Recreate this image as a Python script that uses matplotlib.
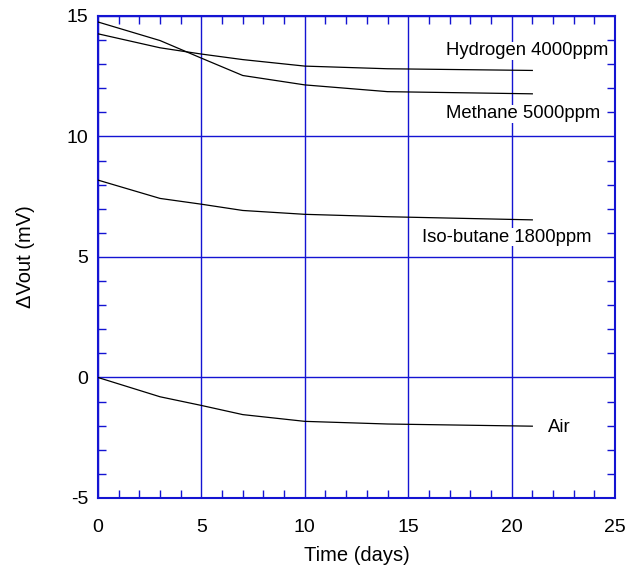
import matplotlib
matplotlib.use("Agg")
import matplotlib.pyplot as plt
from matplotlib.ticker import MultipleLocator

plt.rcParams['font.family'] = ['Liberation Sans', 'DejaVu Sans']
plt.rcParams['axes.unicode_minus'] = False

# Sensor output drift over storage time
days = [0, 3, 5, 7, 10, 14, 21]
hydrogen = [14.26, 13.68, 13.42, 13.19, 12.92, 12.81, 12.74]
methane = [14.75, 13.98, 13.25, 12.53, 12.14, 11.86, 11.77]
isobutane = [8.19, 7.43, 7.19, 6.93, 6.77, 6.67, 6.54]
air = [0.0, -0.80, -1.16, -1.54, -1.82, -1.93, -2.02]

labels = ['Hydrogen 4000ppm', 'Methane 5000ppm', 'Iso-butane 1800ppm', 'Air']
label_xy = [(24.7, 13.55), (24.3, 10.94), (23.85, 5.82), (21.75, -2.08)]
label_ha = ['right', 'right', 'right', 'left']

blue = '#1414d2'

fig = plt.figure(figsize=(6.38, 5.83), dpi=100)
ax = fig.add_axes([0.1536, 0.1458, 0.8104, 0.8268])

for series in (hydrogen, methane, isobutane, air):
    ax.plot(days, series, color='black', linewidth=0.9, zorder=3)

for text, (tx, ty), ha in zip(labels, label_xy, label_ha):
    ax.text(tx, ty, text, ha=ha, va='center', fontsize=13.3, zorder=4,
            bbox=dict(facecolor='white', edgecolor='none', pad=0.5))

ax.set_xlim(0, 25)
ax.set_ylim(-5, 15)
ax.xaxis.set_major_locator(MultipleLocator(5))
ax.xaxis.set_minor_locator(MultipleLocator(1))
ax.yaxis.set_major_locator(MultipleLocator(5))
ax.yaxis.set_minor_locator(MultipleLocator(1))
ax.grid(True, which='major', color=blue, linewidth=1.0)
ax.tick_params(which='both', direction='in', top=True, right=True, colors=blue,
               labelcolor='black', labelsize=14)
ax.tick_params(which='minor', length=5.5, width=1.0)
ax.tick_params(which='major', length=0)
ax.tick_params(axis='x', which='major', pad=15)
ax.tick_params(axis='y', which='major', pad=7)
for side in ax.spines.values():
    side.set_color(blue)
    side.set_linewidth(1.5)

ax.set_xlabel('Time (days)', fontsize=14.5, labelpad=7)
ax.set_ylabel('ΔVout (mV)', fontsize=14.5, labelpad=23)

fig.savefig('out.png', dpi=100)
